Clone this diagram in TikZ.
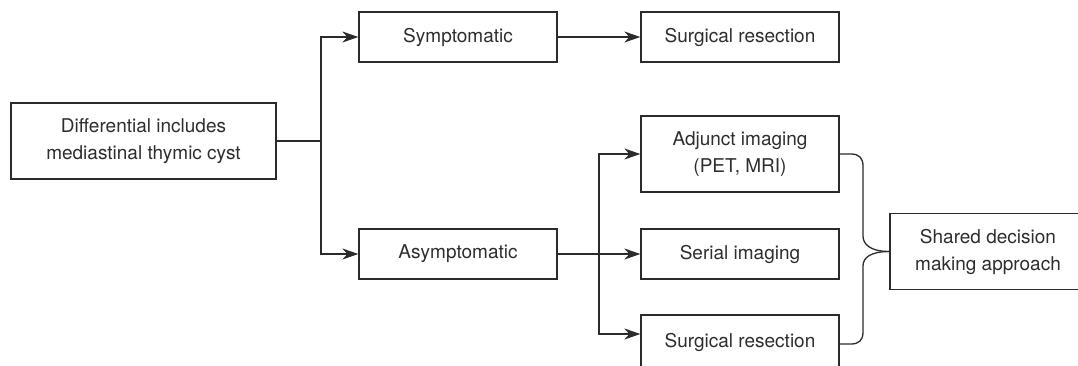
\documentclass[tikz,border=0pt]{standalone}
\usepackage{fontspec}
\setmainfont{TeX Gyre Heros}
\usetikzlibrary{arrows.meta}
\definecolor{linegray}{HTML}{2B2B2B}
\definecolor{textgray}{HTML}{2E2E2E}

\begin{document}
\begin{tikzpicture}[x=0.5pt,y=-0.5pt,
  box/.style={draw=linegray,line width=0.65pt,fill=white,text=textgray,align=center,
    minimum width=99pt,minimum height=25pt,inner sep=0pt,font=\fontsize{9.5}{13.5}\selectfont},
  tallbox/.style={box,minimum height=38pt},
  link/.style={draw=linegray,line width=0.65pt},
  arr/.style={link,-{Stealth[length=8pt,width=5.5pt,inset=2.5pt]}}]
  \useasboundingbox (0,0) rectangle (1078,365);
  % boxes
  \node[tallbox,minimum width=132.5pt] (diff) at (143.5,141) {Differential includes\\mediastinal thymic cyst};
  \node[box] (symp) at (458,37) {Symptomatic};
  \node[box] (surgtop) at (740,37) {Surgical resection};
  \node[box] (asym) at (458,254) {Asymptomatic};
  \node[tallbox] (adj) at (740,154) {Adjunct imaging\\(PET, MRI)};
  \node[box] (serial) at (740,254) {Serial imaging};
  \node[box,minimum height=27pt] (surgbot) at (740,342) {Surgical resection};
  \node[tallbox,minimum width=106pt] (shared) at (996,251.5) {\hspace*{-8pt}Shared decision\\\hspace*{-8pt}making approach};
  % first split
  \coordinate (fork1) at (321,141);
  \draw[link] (diff.east) -- (fork1);
  \draw[arr] (fork1) |- (symp.west);
  \draw[arr] (fork1) |- (asym.west);
  \draw[arr] (symp.east) -- (surgtop.west);
  % second split
  \coordinate (fork2) at (599,254);
  \draw[arr] (asym.east) -- (serial.west);
  \draw[arr] (fork2) |- (adj.west);
  \draw[arr] (fork2) |- ([yshift=4pt]surgbot.west);
  % brace
  \draw[link] (adj.east) -- (851,154) .. controls (859,154) and (863,158) .. (863,166)
    -- (863,236) .. controls (863,244) and (870,251.5) .. (shared.west);
  \draw[link] ([yshift=-1pt]surgbot.east) -- (851,344) .. controls (859,344) and (863,340) .. (863,332)
    -- (863,266) .. controls (863,258) and (870,251.5) .. (shared.west);
\end{tikzpicture}
\end{document}
